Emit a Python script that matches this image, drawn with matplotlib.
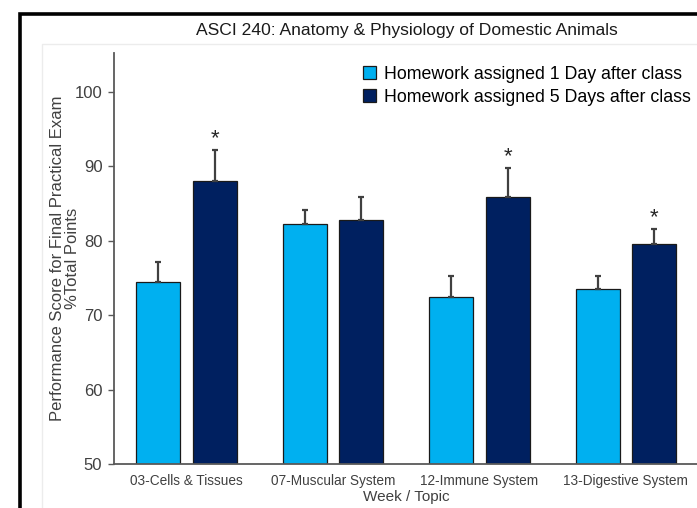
import matplotlib
matplotlib.use("Agg")
import matplotlib.pyplot as plt
import numpy as np
from matplotlib.patches import Rectangle, Patch

plt.rcParams['font.family'] = ['Liberation Sans', 'DejaVu Sans']

title = "ASCI 240: Anatomy & Physiology of Domestic Animals"
categories = ["03-Cells & Tissues", "07-Muscular System", "12-Immune System", "13-Digestive System"]
series_names = ["Homework assigned 1 Day after class", "Homework assigned 5 Days after class"]
day1_values = [74.5, 82.2, 72.4, 73.5]
day1_err = [2.6, 1.9, 2.8, 1.8]
day5_values = [88.0, 82.8, 85.9, 79.5]
day5_err = [4.2, 3.0, 3.8, 2.1]
significant = [True, False, True, True]
y_ticks = [50, 60, 70, 80, 90, 100]
x_label = "Week / Topic"
y_label = "Performance Score for Final Practical Exam\n%Total Points"

light = "#00B0F0"
dark = "#002060"

W, H = 697, 508
fig = plt.figure(figsize=(W / 100, H / 100), dpi=100)

# outer black frame and faint inner frame (image is cropped on right/bottom)
fig.patches.append(Rectangle((20 / W, -0.1), 1.2, 1 - 14 / H + 0.1, transform=fig.transFigure,
                             fill=False, edgecolor="black", linewidth=2.6, zorder=0))
fig.patches.append(Rectangle((42 / W, -0.1), 1.2, 1 - 44 / H + 0.1, transform=fig.transFigure,
                             fill=False, edgecolor="#ececec", linewidth=1.0, zorder=0))

ax_left = 113.5 / W
ax_right = 699 / W
ax_bottom = 1 - 464 / H
ax_top = 1 - 53 / H
ax = fig.add_axes([ax_left, ax_bottom, ax_right - ax_left, ax_top - ax_bottom])

x = np.arange(len(categories))
width = 0.30
off = 0.193
zeros = np.zeros(len(categories))
ax.bar(x - off, day1_values, width, color=light, edgecolor="#1a1a1a", linewidth=0.9, zorder=2,
       label=series_names[0])
ax.bar(x + off, day5_values, width, color=dark, edgecolor="#1a1a1a", linewidth=0.9, zorder=2,
       label=series_names[1])
ax.errorbar(x - off, day1_values, yerr=[zeros, day1_err], fmt="none", ecolor="#404040",
            elinewidth=1.6, capsize=2, capthick=1.6, zorder=3)
ax.errorbar(x + off, day5_values, yerr=[zeros, day5_err], fmt="none", ecolor="#404040",
            elinewidth=1.6, capsize=2, capthick=1.6, zorder=3)

for xi, v, e, s in zip(x, day5_values, day5_err, significant):
    if s:
        ax.text(xi + off, v + e + 0.1, "*", ha="center", va="bottom", fontsize=16,
                color="#262626")

ax.set_xlim(-0.5, len(categories) - 0.5)
ax.set_ylim(50, 105.2)
ax.set_yticks(y_ticks)
ax.set_xticks(x)
ax.set_xticklabels(categories, fontsize=9.8, color="#404040")
ax.tick_params(axis="x", length=0, pad=7.5)
ax.tick_params(axis="y", length=4, width=1, color="#595959", labelsize=12, labelcolor="#404040", pad=4)

for sp in ["top", "right"]:
    ax.spines[sp].set_visible(False)
for sp in ["left", "bottom"]:
    ax.spines[sp].set_color("#595959")
    ax.spines[sp].set_linewidth(1.3)

ax.set_xlabel(x_label, fontsize=11, color="#404040", labelpad=1.5)
ax.set_ylabel(y_label, fontsize=12, color="#404040", linespacing=1.0, va="center")
ax.yaxis.set_label_coords((65 - 113.5) / (699 - 113.5), 0.5)

fig.text(407 / W, 1 - 30 / H, title, ha="center", va="center", fontsize=12.6, color="#1a1a1a")

handles = [Patch(facecolor=light, edgecolor="#1a1a1a", linewidth=0.9),
           Patch(facecolor=dark, edgecolor="#1a1a1a", linewidth=0.9)]
fig.legend(handles, series_names, loc="upper left", bbox_to_anchor=(363 / W, 1 - 66 / H),
           frameon=False, fontsize=12.8, handlelength=0.75, handleheight=0.75, handletextpad=0.42,
           labelspacing=0.32, borderpad=0, borderaxespad=0)

fig.savefig("out.png", dpi=100, facecolor="white")
